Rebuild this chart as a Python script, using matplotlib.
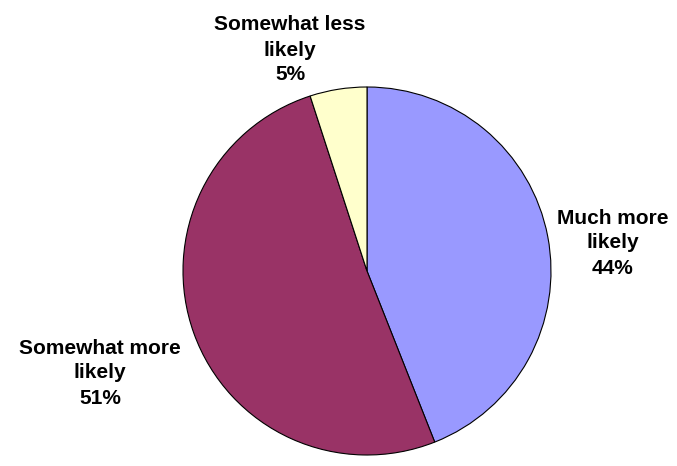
import matplotlib.pyplot as plt

# shares of respondents
labels = ['Much more\nlikely', 'Somewhat more\nlikely', 'Somewhat less\nlikely']
shares = [44, 51, 5]
colors = ['#9999FF', '#993366', '#FFFFCC']

plt.rcParams['font.family'] = ['Liberation Sans', 'DejaVu Sans']

fig = plt.figure(figsize=(6.77, 4.66), dpi=100)
ax = fig.add_axes([0, 0, 1, 1])

ax.pie(shares, colors=colors, startangle=90, counterclock=False,
       center=(367, 195), radius=184, frame=True,
       wedgeprops=dict(edgecolor='black', linewidth=0.8))
ax.set_xlim(0, 677)
ax.set_ylim(0, 466)
ax.set_aspect('equal')
ax.axis('off')

# label positions (pixel coords, y up)
label_pos = [(613, 223), (100, 93), (290, 416)]
for lab, s, (x, y) in zip(labels, shares, label_pos):
    ax.text(x, y, f'{lab}\n{s}%', ha='center', va='center',
            fontsize=15, fontweight='bold', linespacing=1.4)

fig.savefig('out.png', dpi=100)
